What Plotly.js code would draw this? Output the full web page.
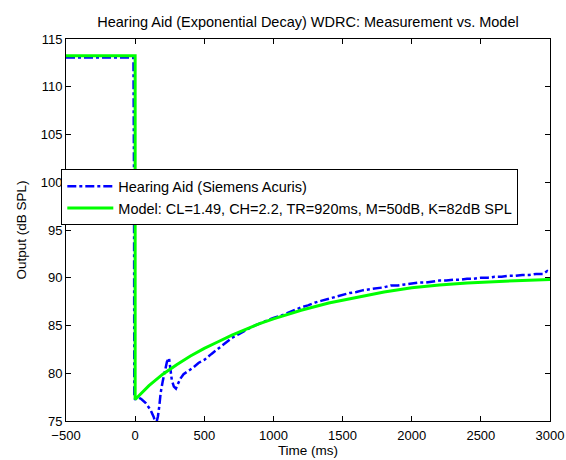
<!DOCTYPE html>
<html>
<head>
<meta charset="utf-8">
<script src="https://cdn.plot.ly/plotly-3.0.1.min.js"></script>
<style>html,body{margin:0;padding:0;background:#fff;}#chart{width:566px;height:460px;}</style>
</head>
<body>
<div id="chart"></div>
<script>
const measTime = [-500, -300, -100, -12, -8, -6, 0, 20, 44, 75, 110, 135, 150, 165, 175, 185, 200, 215, 230, 245, 255, 265, 280, 295, 310, 330, 350, 380, 420, 460, 500, 550, 600, 650, 700, 750, 800, 850, 900, 950,
  1000, 1050, 1100, 1150, 1200, 1250, 1300, 1350, 1400, 1450, 1500, 1550, 1600, 1650, 1700, 1750, 1800, 1850, 1900, 1950,
  2000, 2050, 2100, 2150, 2200, 2250, 2300, 2350, 2400, 2450, 2500, 2550, 2600, 2650, 2700, 2750, 2800, 2850, 2900, 2950, 2980, 3000];
const measLevel = [113.05, 113.05, 113.05, 113.05, 100, 77.4, 77.3, 77.5, 77.3, 76.9, 76.2, 75.4, 74.6, 75.5, 76.6, 78.0, 79.2, 80.3, 81.2, 81.6, 80.3, 79.3, 78.6, 78.4, 78.9, 79.5, 79.9, 80.2, 80.6, 81.1, 81.4, 82.0, 82.6, 83.1, 83.7, 84.1, 84.5, 84.9, 85.2, 85.5,
  85.8, 86.0, 86.3, 86.6, 86.9, 87.1, 87.4, 87.6, 87.8, 88.0, 88.2, 88.4, 88.5, 88.7, 88.8, 88.9, 89.0, 89.2, 89.2, 89.3,
  89.4, 89.5, 89.5, 89.6, 89.7, 89.7, 89.8, 89.8, 89.9, 89.9, 90.0, 90.0, 90.1, 90.1, 90.2, 90.2, 90.3, 90.3, 90.4, 90.4, 90.7, 90.5];

// Model curve (ms, dB SPL)
const modelTime = [-500, 0, 0, 100, 200, 300, 400, 500, 600, 700, 800, 900, 1000, 1200, 1400, 1600, 1800, 2000, 2200, 2400, 2600, 2800, 3000];
const modelLevel = [113.25, 113.25, 77.25, 78.7, 79.9, 80.9, 81.8, 82.6, 83.3, 84.0, 84.6, 85.2, 85.7, 86.6, 87.35, 87.95, 88.5, 88.95, 89.25, 89.45, 89.6, 89.72, 89.82];

const seriesNames = ['Hearing Aid (Siemens Acuris)', 'Model: CL=1.49, CH=2.2, TR=920ms, M=50dB, K=82dB SPL'];
const xTicks = [-500, 0, 500, 1000, 1500, 2000, 2500, 3000];
const yTicks = [75, 80, 85, 90, 95, 100, 105, 110, 115];

const FONT = 'Liberation Sans, Arial, Helvetica, sans-serif';

const traces = [
  {x: measTime, y: measLevel, mode: 'lines', name: seriesNames[0],
   line: {color: '#0000ff', width: 2.5, dash: 'dashdot'}},
  {x: modelTime, y: modelLevel, mode: 'lines', name: seriesNames[1],
   line: {color: '#00ff00', width: 3}}
];

const axisCommon = {
  showline: true, mirror: 'ticks', linecolor: '#000', linewidth: 1,
  ticks: 'inside', ticklen: 5, tickcolor: '#000', tickwidth: 1,
  showgrid: false, zeroline: false,
  tickfont: {family: FONT, size: 13, color: '#000'}
};

const layout = {
  width: 566, height: 460,
  margin: {l: 66, r: 16, t: 39, b: 39},
  paper_bgcolor: '#fff', plot_bgcolor: '#fff',
  font: {family: FONT, size: 13, color: '#000'},
  title: {text: 'Hearing Aid (Exponential Decay) WDRC: Measurement vs. Model',
          font: {family: FONT, size: 14.5, color: '#000'},
          x: 0.5, xref: 'paper', xanchor: 'center', y: 0.953, yref: 'container', yanchor: 'middle'},
  xaxis: Object.assign({}, axisCommon, {
    range: [-500, 3000], tickvals: xTicks, ticklabelstandoff: 2,
    title: {text: 'Time (ms)', font: {family: FONT, size: 13.5, color: '#000'}, standoff: 2}
  }),
  yaxis: Object.assign({}, axisCommon, {
    range: [75, 115], tickvals: yTicks,
    title: {text: 'Output (dB SPL)', font: {family: FONT, size: 13.5, color: '#000'}, standoff: 10}
  }),
  showlegend: true,
  legend: {x: -0.0097, xanchor: 'left', y: 0.659, yanchor: 'top',
           bgcolor: '#fff', bordercolor: '#000', borderwidth: 1, itemwidth: 46,
           tracegroupgap: 0,
           font: {family: FONT, size: 14.5, color: '#000'}}
};

Plotly.newPlot('chart', traces, layout, {displayModeBar: false, staticPlot: true});
</script>
</body>
</html>
